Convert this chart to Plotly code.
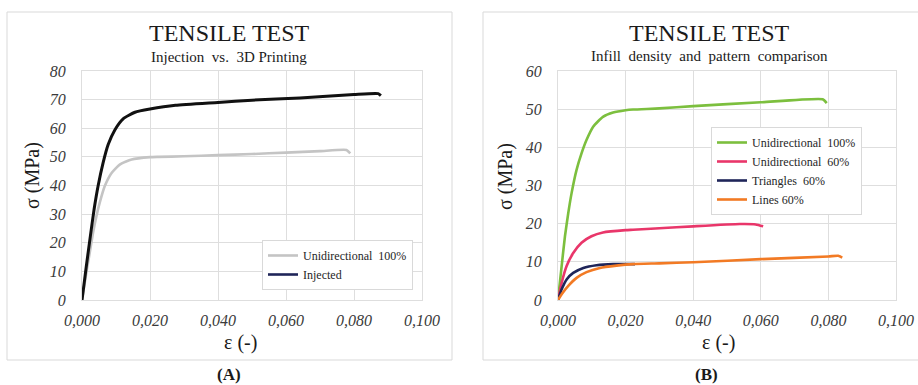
import plotly.graph_objects as go

# ---------------- data ----------------
# Panel A : Injection vs. 3D Printing
a_uni100_strain = [0, 0.00128, 0.00227, 0.00325, 0.00424, 0.00522, 0.0067, 0.0087, 0.0111,
                   0.0146, 0.0200, 0.0225, 0.030, 0.040, 0.050, 0.060, 0.070, 0.0778, 0.0789]
a_uni100_stress = [0, 9.5, 16.5, 23.5, 29.3, 34.0, 39.8, 44.4, 47.3,
                   49.1, 49.9, 50.0, 50.2, 50.6, 51.0, 51.5, 52.0, 52.4, 51.2]

a_inj_strain = [0, 0.00128, 0.00246, 0.00355, 0.00473, 0.0062, 0.0077, 0.0097, 0.0121,
                0.0156, 0.0200, 0.0275, 0.040, 0.050, 0.0641, 0.080, 0.0871, 0.0879]
a_inj_stress = [0, 11.9, 22.3, 31.6, 39.8, 47.9, 54.3, 59.5, 63.3,
                65.6, 66.7, 68.0, 69.0, 69.8, 70.6, 71.8, 72.1, 71.4]

# Panel B : Infill density and pattern comparison
b_uni100_strain = [0, 0.00108, 0.00206, 0.00304, 0.00402, 0.00549, 0.00696, 0.00843, 0.0104,
                   0.0133, 0.0163, 0.0200, 0.0222, 0.030, 0.040, 0.060, 0.0783, 0.0795]
b_uni100_stress = [0, 8.9, 16.7, 22.8, 28.0, 34.1, 38.4, 41.9, 45.4,
                   48.0, 49.1, 49.7, 49.9, 50.2, 50.8, 51.8, 52.6, 51.6]

b_uni60_strain = [0, 0.00108, 0.00255, 0.0045, 0.00696, 0.0099, 0.0133, 0.0200, 0.0222,
                  0.030, 0.040, 0.0538, 0.0585, 0.0607]
b_uni60_stress = [0, 4.5, 8.9, 12.3, 15.0, 16.7, 17.7, 18.3, 18.4,
                  18.8, 19.3, 19.9, 19.8, 19.3]

b_tri60_strain = [0, 0.00108, 0.00255, 0.0045, 0.0075, 0.0114, 0.0163, 0.0228]
b_tri60_stress = [0, 2.8, 5.4, 7.1, 8.4, 9.1, 9.4, 9.4]

b_lines60_strain = [0, 0.00108, 0.00304, 0.00549, 0.00843, 0.0124, 0.0173, 0.0222,
                    0.030, 0.040, 0.060, 0.080, 0.0829, 0.0841]
b_lines60_stress = [0, 1.5, 3.7, 5.8, 7.3, 8.4, 9.0, 9.4,
                    9.6, 9.9, 10.7, 11.4, 11.6, 11.1]

x_tickvals = [0, 0.02, 0.04, 0.06, 0.08, 0.10]
x_ticktext = ["0,000", "0,020", "0,040", "0,060", "0,080", "0,100"]
ya_tickvals = [0, 10, 20, 30, 40, 50, 60, 70, 80]
yb_tickvals = [0, 10, 20, 30, 40, 50, 60]

# ---------------- figure ----------------
W, H = 918, 385
def px(x):
    return x / W
def py(y):
    return 1 - y / H

SERIF = "Liberation Serif, Times New Roman, serif"
GRID = "#dedede"
LINE = dict(shape="spline", smoothing=0.5)

fig = go.Figure()

# Panel A
fig.add_trace(go.Scatter(x=a_uni100_strain, y=a_uni100_stress, mode="lines",
                         line=dict(LINE, color="#c4c4c4", width=2.6), name="Unidirectional  100%",
                         xaxis="x", yaxis="y", legend="legend"))
fig.add_trace(go.Scatter(x=a_inj_strain, y=a_inj_stress, mode="lines",
                         line=dict(LINE, color="#111111", width=3), name="Injected",
                         xaxis="x", yaxis="y", showlegend=False))
fig.add_trace(go.Scatter(x=[None], y=[None], mode="lines",
                         line=dict(color="#1f2559", width=2.6), name="Injected",
                         xaxis="x", yaxis="y", legend="legend"))

# Panel B
fig.add_trace(go.Scatter(x=b_uni100_strain, y=b_uni100_stress, mode="lines",
                         line=dict(LINE, color="#7cbf3e", width=2.6), name="Unidirectional  100%",
                         xaxis="x2", yaxis="y2", legend="legend2"))
fig.add_trace(go.Scatter(x=b_uni60_strain, y=b_uni60_stress, mode="lines",
                         line=dict(LINE, color="#e9366a", width=2.6), name="Unidirectional  60%",
                         xaxis="x2", yaxis="y2", legend="legend2"))
fig.add_trace(go.Scatter(x=b_tri60_strain, y=b_tri60_stress, mode="lines",
                         line=dict(LINE, color="#1f2559", width=2.6), name="Triangles  60%",
                         xaxis="x2", yaxis="y2", legend="legend2"))
fig.add_trace(go.Scatter(x=b_lines60_strain, y=b_lines60_stress, mode="lines",
                         line=dict(LINE, color="#f27a24", width=2.6), name="Lines 60%",
                         xaxis="x2", yaxis="y2", legend="legend2"))

tickfont = dict(family=SERIF, size=16, color="#3a3a3a", style="italic")
xcommon = dict(range=[0, 0.1], tickvals=x_tickvals, ticktext=x_ticktext,
               showgrid=True, gridcolor=GRID, gridwidth=1, zeroline=False,
               showline=True, linecolor=GRID, mirror=True, linewidth=1,
               ticks="", tickfont=tickfont, ticklabelstandoff=6, automargin=False)
ycommon = dict(showgrid=True, gridcolor=GRID, gridwidth=1, zeroline=False,
               showline=True, linecolor=GRID, mirror=True, linewidth=1,
               ticks="", tickfont=tickfont, ticklabelstandoff=12, automargin=False)

legfont = dict(family=SERIF, size=12, color="#262626")
ydom = [py(300), py(71)]
fig.update_layout(
    width=W, height=H,
    margin=dict(l=0, r=0, t=0, b=0, pad=0, autoexpand=False),
    paper_bgcolor="white", plot_bgcolor="white",
    xaxis=dict(xcommon, domain=[px(82), px(422)], anchor="y"),
    yaxis=dict(ycommon, domain=ydom, range=[0, 80], tickvals=ya_tickvals, anchor="x"),
    xaxis2=dict(xcommon, domain=[px(558), px(896)], anchor="y2"),
    yaxis2=dict(ycommon, domain=ydom, range=[0, 60], tickvals=yb_tickvals, anchor="x2"),
    legend=dict(x=px(262), y=py(240), xanchor="left", yanchor="top",
                bgcolor="white", bordercolor="#d9d9d9", borderwidth=1,
                font=legfont, tracegroupgap=0, itemwidth=30),
    legend2=dict(x=px(711), y=py(127), xanchor="left", yanchor="top",
                 bgcolor="white", bordercolor="#d9d9d9", borderwidth=1,
                 font=legfont, tracegroupgap=0, itemwidth=30),
    showlegend=True,
)

# outer frames
fig.add_shape(type="rect", xref="paper", yref="paper",
              x0=px(7), x1=px(452), y0=py(360), y1=py(12),
              line=dict(color="#d9d9d9", width=1), layer="below")
fig.add_shape(type="rect", xref="paper", yref="paper",
              x0=px(483), x1=px(930), y0=py(360), y1=py(12),
              line=dict(color="#d9d9d9", width=1), layer="below")

def ann(x, y, text, size, bold=False, angle=0, color="#1a1a1a"):
    fig.add_annotation(x=px(x), y=py(y), xref="paper", yref="paper",
                       text=f"<b>{text}</b>" if bold else text, showarrow=False,
                       xanchor="center", yanchor="middle", textangle=angle,
                       borderpad=0,
                       font=dict(family=SERIF, size=size, color=color))

# titles
ann(229, 33, "TENSILE TEST", 24)
ann(229, 57, "Injection  vs.  3D Printing", 15)
ann(709, 33, "TENSILE TEST", 24)
ann(709, 56, "Infill  density  and  pattern  comparison", 15)

# axis titles
ann(241, 342, "ε (-)", 20)
ann(718, 342, "ε (-)", 20)
ann(33, 176, "σ (MPa)", 20, angle=-90)
ann(506, 176, "σ (MPa)", 20, angle=-90)

# panel labels
ann(229, 374, "(A)", 17, bold=True)
ann(706, 374, "(B)", 17, bold=True)

fig.write_html("out.html")
